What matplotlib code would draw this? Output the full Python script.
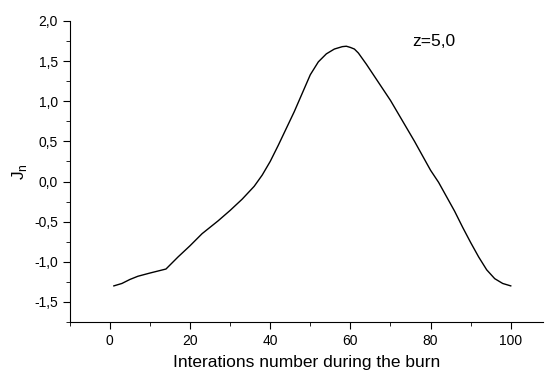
import numpy as np
import matplotlib
matplotlib.use("Agg")
from matplotlib import pyplot as plt
from matplotlib.ticker import MultipleLocator, FuncFormatter

plt.rcParams['font.family'] = ['Liberation Sans', 'DejaVu Sans']

# iterations and J_n values
iterations = [1, 3, 5, 7, 10, 14, 17, 20, 23, 27, 30, 33, 36, 38, 40, 42, 44, 46,
              48, 50, 52, 54, 56, 58, 59, 60, 61, 62, 64, 66, 68, 70, 72, 74, 76,
              78, 80, 82, 84, 86, 88, 90, 92, 94, 96, 98, 100]
jn = [-1.30, -1.27, -1.22, -1.18, -1.14, -1.09, -0.94, -0.80, -0.65, -0.49,
      -0.36, -0.22, -0.06, 0.08, 0.25, 0.45, 0.66, 0.87, 1.10, 1.33, 1.49, 1.59,
      1.65, 1.68, 1.685, 1.67, 1.65, 1.60, 1.46, 1.31, 1.16, 1.01, 0.84, 0.67,
      0.50, 0.32, 0.14, -0.01, -0.19, -0.37, -0.57, -0.76, -0.94, -1.10, -1.21,
      -1.27, -1.30]
label_z = "z=5,0"

fig = plt.figure(figsize=(5.45, 3.74), dpi=100)
ax = fig.add_axes([0.128, 0.139, 0.868, 0.805])
ax.plot(iterations, jn, color="black", lw=1.0)

ax.set_xlim(-10, 108)
ax.set_ylim(-1.75, 2.0)
ax.spines['top'].set_visible(False)
ax.spines['right'].set_visible(False)

ax.xaxis.set_major_locator(MultipleLocator(20))
ax.xaxis.set_minor_locator(MultipleLocator(10))
ax.yaxis.set_major_locator(MultipleLocator(0.5))
ax.yaxis.set_minor_locator(MultipleLocator(0.25))
ax.yaxis.set_major_formatter(FuncFormatter(lambda v, p: ("%.1f" % v).replace(".", ",")))
ax.tick_params(which='major', direction='out', length=5, labelsize=10)
ax.tick_params(which='minor', direction='out', length=3)

ax.set_xlabel("Interations number during the burn", fontsize=12.5, labelpad=5)
ax.set_ylabel(r"J$_\mathregular{n}$", fontsize=12.5, labelpad=4)
ax.text(80.75, 1.74, label_z, fontsize=12.5, ha='center', va='center')

fig.savefig("out.png", dpi=100)
